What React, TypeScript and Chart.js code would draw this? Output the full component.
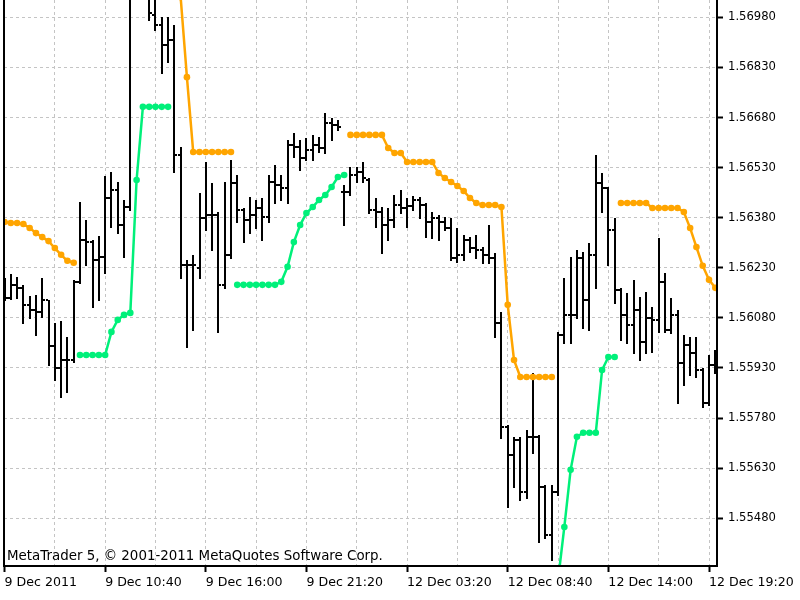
import React, { useEffect, useRef } from "react";
import { Chart, registerables } from "chart.js";

Chart.register(...registerables);

// ---- axis labels ----
const xTickLabels = [
  "9 Dec 2011",
  "9 Dec 10:40",
  "9 Dec 16:00",
  "9 Dec 21:20",
  "12 Dec 03:20",
  "12 Dec 08:40",
  "12 Dec 14:00",
  "12 Dec 19:20",
];
const xTickBars = [0, 16, 32, 48, 64, 80, 96, 112];
const xGridBars = [0, 8, 16, 24, 32, 40, 48, 56, 64, 72, 80, 88, 96, 104, 112];
const yTicks = [1.5548, 1.5563, 1.5578, 1.5593, 1.5608, 1.5623, 1.5638, 1.5653, 1.5668, 1.5683, 1.5698];
const yMin = 1.55337;
const yMax = 1.57032;

// ---- price bars (M20) ----
const opens = [
  1.56164, 1.5614, 1.56179, 1.5617, 1.56119, 1.56104, 1.56098, 1.56134, 1.55996, 1.5593,
  1.55954, 1.55954, 1.56188, 1.56313, 1.56307, 1.56254, 1.56263, 1.56439, 1.56463, 1.56358,
  1.56412, 1.57122, 1.57212, 1.57152, 1.56987, 1.56957, 1.56897, 1.56912, 1.56568, 1.56239,
  1.56239, 1.5623, 1.56379, 1.56388, 1.56388, 1.56179, 1.56269, 1.56484, 1.56403, 1.56373,
  1.56388, 1.56409, 1.56382, 1.56487, 1.56478, 1.56469, 1.56598, 1.56592, 1.56559, 1.56583,
  1.56598, 1.56589, 1.56664, 1.56658, 1.56457, 1.56457, 1.56508, 1.56517, 1.56493, 1.56403,
  1.56397, 1.56358, 1.56373, 1.56418, 1.56409, 1.56415, 1.56433, 1.56418, 1.56367, 1.56379,
  1.56367, 1.56349, 1.5626, 1.56269, 1.56313, 1.56289, 1.56284, 1.56269, 1.5626, 1.56065,
  1.55754, 1.5567, 1.55715, 1.55559, 1.55724, 1.55724, 1.55574, 1.5543, 1.55559, 1.56029,
  1.56089, 1.56089, 1.5626, 1.56134, 1.56269, 1.56484, 1.56469, 1.56343, 1.56164, 1.56089,
  1.56059, 1.56104, 1.56008, 1.5608, 1.56074, 1.56188, 1.56044, 1.56089, 1.55945, 1.55999,
  1.55975, 1.55924, 1.55825, 1.55939,
];
const highs = [
  1.562, 1.56212, 1.56203, 1.56179, 1.56146, 1.56149, 1.562, 1.56134, 1.56065, 1.56071,
  1.56023, 1.56194, 1.56427, 1.56373, 1.56313, 1.56325, 1.56505, 1.56517, 1.56487, 1.56433,
  1.57212, 1.57361, 1.57331, 1.57167, 1.57047, 1.56981, 1.56981, 1.56957, 1.56592, 1.56254,
  1.56269, 1.56454, 1.56547, 1.56484, 1.56397, 1.56487, 1.56553, 1.56508, 1.56409, 1.56442,
  1.56433, 1.56439, 1.56508, 1.56538, 1.56508, 1.56613, 1.56634, 1.56613, 1.56619, 1.56628,
  1.56622, 1.56694, 1.56679, 1.56673, 1.56478, 1.56532, 1.56532, 1.56547, 1.56499, 1.56439,
  1.56412, 1.56409, 1.56448, 1.56463, 1.56439, 1.56445, 1.56442, 1.56424, 1.56397, 1.56388,
  1.56382, 1.56379, 1.56349, 1.56328, 1.56322, 1.56328, 1.56292, 1.56358, 1.56275, 1.56098,
  1.5576, 1.55724, 1.55724, 1.55745, 1.55915, 1.5573, 1.5558, 1.5558, 1.56038, 1.562,
  1.56263, 1.56284, 1.56278, 1.56304, 1.56568, 1.56514, 1.56472, 1.56379, 1.5617, 1.56155,
  1.56194, 1.56143, 1.56158, 1.56113, 1.56319, 1.56215, 1.5614, 1.56104, 1.56029, 1.56023,
  1.56023, 1.5593, 1.55969, 1.55984,
];
const lows = [
  1.56134, 1.56137, 1.5614, 1.56065, 1.5608, 1.56029, 1.56083, 1.55939, 1.55894, 1.55843,
  1.55858, 1.55948, 1.56185, 1.56239, 1.56113, 1.56134, 1.56215, 1.56352, 1.56334, 1.56263,
  1.56403, 1.57092, 1.57077, 1.56972, 1.56942, 1.56813, 1.56846, 1.56517, 1.562, 1.55993,
  1.56044, 1.562, 1.56343, 1.56284, 1.56038, 1.5617, 1.5626, 1.56367, 1.56307, 1.56334,
  1.56349, 1.56313, 1.56367, 1.56424, 1.56433, 1.56424, 1.56562, 1.56523, 1.56553, 1.56553,
  1.56577, 1.56574, 1.56613, 1.56643, 1.56358, 1.56448, 1.56487, 1.56487, 1.56394, 1.56352,
  1.56275, 1.56313, 1.56352, 1.56394, 1.56352, 1.56403, 1.56379, 1.56322, 1.56319, 1.56313,
  1.56343, 1.56254, 1.56248, 1.56254, 1.56278, 1.5626, 1.56245, 1.56245, 1.56023, 1.55721,
  1.55514, 1.55574, 1.55535, 1.55541, 1.55676, 1.55409, 1.55421, 1.55355, 1.5555, 1.56005,
  1.56005, 1.5608, 1.5605, 1.56044, 1.5617, 1.56397, 1.56239, 1.56125, 1.56014, 1.56005,
  1.55975, 1.55954, 1.55975, 1.55978, 1.56038, 1.56038, 1.56035, 1.55825, 1.55879, 1.55909,
  1.55903, 1.55813, 1.55819, 1.55915,
];
const closes = [
  1.5614, 1.56179, 1.5617, 1.56119, 1.56104, 1.56098, 1.56134, 1.55996, 1.5593, 1.55954,
  1.55954, 1.56188, 1.56313, 1.56307, 1.56254, 1.56263, 1.56439, 1.56463, 1.56358, 1.56412,
  1.57122, 1.57212, 1.57152, 1.56993, 1.56957, 1.56897, 1.56912, 1.56568, 1.56239, 1.56239,
  1.56239, 1.56379, 1.56388, 1.56388, 1.56179, 1.56269, 1.56484, 1.56403, 1.56373, 1.56388,
  1.56409, 1.56382, 1.56487, 1.56478, 1.56469, 1.56598, 1.56592, 1.56559, 1.56583, 1.56598,
  1.56589, 1.56664, 1.56658, 1.56652, 1.56457, 1.56508, 1.56517, 1.56499, 1.56403, 1.56397,
  1.56358, 1.56373, 1.56418, 1.56409, 1.56415, 1.56433, 1.56418, 1.56367, 1.56379, 1.56367,
  1.56349, 1.5626, 1.56269, 1.56313, 1.56289, 1.56284, 1.56269, 1.5626, 1.56065, 1.55754,
  1.5567, 1.55715, 1.55559, 1.55724, 1.55724, 1.55574, 1.5543, 1.55559, 1.56029, 1.56089,
  1.56089, 1.5626, 1.56134, 1.56269, 1.56484, 1.56469, 1.56343, 1.56164, 1.56089, 1.56059,
  1.56104, 1.56008, 1.5608, 1.56074, 1.56188, 1.56044, 1.56089, 1.55945, 1.55999, 1.55975,
  1.55924, 1.55825, 1.55939, 1.55936,
];

// ---- indicator lines (null = not drawn) ----
const upperLine = [
  1.56367, 1.56364, 1.56364, 1.56361, 1.56349, 1.56334, 1.56322, 1.5631, 1.56289, 1.56269,
  1.56251, 1.56245, null, null, null, null, null, null, null, null,
  null, null, null, null, null, null, null, 1.57391, 1.57041, 1.56801,
  1.56577, 1.56577, 1.56577, 1.56577, 1.56577, 1.56577, 1.56577, null, null, null,
  null, null, null, null, null, null, null, null, null, null,
  null, null, null, null, null, 1.56628, 1.56628, 1.56628, 1.56628, 1.56628,
  1.56628, 1.56589, 1.56574, 1.56574, 1.56547, 1.56547, 1.56547, 1.56547, 1.56547, 1.56514,
  1.56499, 1.56487, 1.56475, 1.5646, 1.56439, 1.56424, 1.56418, 1.56418, 1.56418, 1.56412,
  1.56119, 1.55954, 1.55903, 1.55903, 1.55903, 1.55903, 1.55903, 1.55903, null, null,
  null, null, null, null, null, null, null, null, 1.56424, 1.56424,
  1.56424, 1.56424, 1.56424, 1.56409, 1.56409, 1.56409, 1.56409, 1.56409, 1.56397, 1.56349,
  1.56292, 1.56236, 1.56194, 1.5617,
];
const lowerLine = [
  null, null, null, null, null, null, null, null, null, null,
  null, null, 1.55969, 1.55969, 1.55969, 1.55969, 1.55969, 1.56038, 1.56074, 1.56089,
  1.56095, 1.56493, 1.56712, 1.56712, 1.56712, 1.56712, 1.56712, null, null, null,
  null, null, null, null, null, null, null, 1.56179, 1.56179, 1.56179,
  1.56179, 1.56179, 1.56179, 1.56179, 1.56188, 1.56233, 1.56307, 1.56358, 1.56394, 1.56412,
  1.56433, 1.56448, 1.56472, 1.56502, 1.56508, null, null, null, null, null,
  null, null, null, null, null, null, null, null, null, null,
  null, null, null, null, null, null, null, null, null, null,
  null, null, null, null, null, null, null, null, 1.55295, 1.55454,
  1.55625, 1.55724, 1.55736, 1.55736, 1.55736, 1.55924, 1.55963, 1.55963, null, null,
  null, null, null, null, null, null, null, null, null, null,
  null, null, null, null,
];

const copyrightText = "MetaTrader 5, \u00A9 2001-2011 MetaQuotes Software Corp.";
const FONT_FAMILY = "'DejaVu Sans', 'Liberation Sans', sans-serif";

export default function App() {
  const canvasRef = useRef<HTMLCanvasElement | null>(null);

  useEffect(() => {
    document.body.style.margin = "0";
    const canvas = canvasRef.current;
    if (!canvas) return;

    const ohlcPlugin = {
      id: "ohlcBars",
      beforeDatasetsDraw(chart: any) {
        const { ctx, chartArea, scales } = chart;
        const xs = scales.x;
        const ys = scales.y;
        ctx.save();
        ctx.beginPath();
        ctx.rect(chartArea.left, chartArea.top, chartArea.right - chartArea.left, chartArea.bottom - chartArea.top);
        ctx.clip();
        ctx.fillStyle = "#000000";
        for (let i = 0; i < opens.length; i++) {
          const x = Math.round(xs.getPixelForValue(i));
          const yH = Math.round(ys.getPixelForValue(highs[i]));
          const yL = Math.round(ys.getPixelForValue(lows[i]));
          const yO = Math.round(ys.getPixelForValue(opens[i]));
          const yC = Math.round(ys.getPixelForValue(closes[i]));
          ctx.fillRect(x - 1, yH, 2, Math.max(1, yL - yH + 1));
          ctx.fillRect(x - 3, yO - 1, 2, 2);
          ctx.fillRect(x + 1, yC - 1, 2, 2);
        }
        ctx.restore();
      },
      afterDraw(chart: any) {
        const { ctx, chartArea } = chart;
        ctx.save();
        ctx.fillStyle = "#000000";
        // frame: left, right, bottom
        ctx.fillRect(chartArea.left - 1, chartArea.top, 2, chartArea.bottom - chartArea.top + 1);
        ctx.fillRect(chartArea.right - 1, chartArea.top, 2, chartArea.bottom - chartArea.top + 1);
        ctx.fillRect(chartArea.left - 1, chartArea.bottom - 1, chartArea.right - chartArea.left + 2, 2);
        // copyright
        ctx.font = `13.4px ${FONT_FAMILY}`;
        ctx.textAlign = "left";
        ctx.textBaseline = "alphabetic";
        ctx.fillText(copyrightText, chartArea.left + 3, chartArea.bottom - 6);
        ctx.restore();
      },
    };

    const chart = new Chart(canvas, {
      type: "line",
      data: {
        datasets: [
          {
            label: "upper",
            data: upperLine.map((v, i) => ({ x: i, y: v })),
            borderColor: "#FFA500",
            backgroundColor: "#FFA500",
            borderWidth: 2.5,
            pointRadius: 3.3,
            pointBorderWidth: 0,
            pointHoverRadius: 0,
            spanGaps: false,
            tension: 0,
          },
          {
            label: "lower",
            data: lowerLine.map((v, i) => ({ x: i, y: v })),
            borderColor: "#00F07A",
            backgroundColor: "#00F07A",
            borderWidth: 2.5,
            pointRadius: 3.3,
            pointBorderWidth: 0,
            pointHoverRadius: 0,
            spanGaps: false,
            tension: 0,
          },
        ],
      },
      options: {
        responsive: false,
        animation: false,
        events: [],
        layout: { padding: { left: 4, right: 0, top: 0, bottom: 0 }, autoPadding: false },
        plugins: {
          legend: { display: false },
          tooltip: { enabled: false },
          title: { display: false },
        },
        scales: {
          x: {
            type: "linear",
            position: "bottom",
            min: -0.08,
            max: 113.27,
            afterBuildTicks: (axis: any) => {
              axis.ticks = xGridBars.map((v) => ({ value: v }));
            },
            afterFit: (scale: any) => {
              scale.height = 34;
              scale.paddingLeft = 0;
              scale.paddingRight = 0;
            },
            grid: {
              color: "#c4c4c4",
              lineWidth: 1,
              drawTicks: true,
              tickLength: 6,
              tickWidth: 2,
              tickColor: (c: any) =>
                c.tick && xTickBars.indexOf(c.tick.value) >= 0 ? "#000000" : "rgba(0,0,0,0)",
            },
            border: { display: false, dash: [3, 3] },
            ticks: {
              autoSkip: false,
              maxRotation: 0,
              minRotation: 0,
              align: "start",
              padding: 3,
              color: "#000000",
              font: { family: FONT_FAMILY, size: 12.6 },
              callback: (value: any) => {
                const k = xTickBars.indexOf(Number(value));
                return k >= 0 ? xTickLabels[k] : "";
              },
            },
          },
          y: {
            type: "linear",
            position: "right",
            min: yMin,
            max: yMax,
            afterBuildTicks: (axis: any) => {
              axis.ticks = yTicks.map((v) => ({ value: v }));
            },
            afterFit: (scale: any) => {
              scale.width = 83;
              scale.paddingTop = 0;
              scale.paddingBottom = 0;
            },
            grid: {
              color: "#c4c4c4",
              lineWidth: 1,
              drawTicks: true,
              tickLength: 6,
              tickWidth: 2,
              tickColor: "#000000",
            },
            border: { display: false, dash: [3, 3] },
            ticks: {
              padding: 5,
              color: "#000000",
              font: { family: FONT_FAMILY, size: 11.6 },
              callback: (value: any) => Number(value).toFixed(5),
            },
          },
        },
      },
      plugins: [ohlcPlugin],
    } as any);

    return () => {
      chart.destroy();
    };
  }, []);

  return (
    <div style={{ width: 800, height: 600, background: "#ffffff" }}>
      <canvas ref={canvasRef} width={800} height={600} style={{ display: "block" }} />
    </div>
  );
}
